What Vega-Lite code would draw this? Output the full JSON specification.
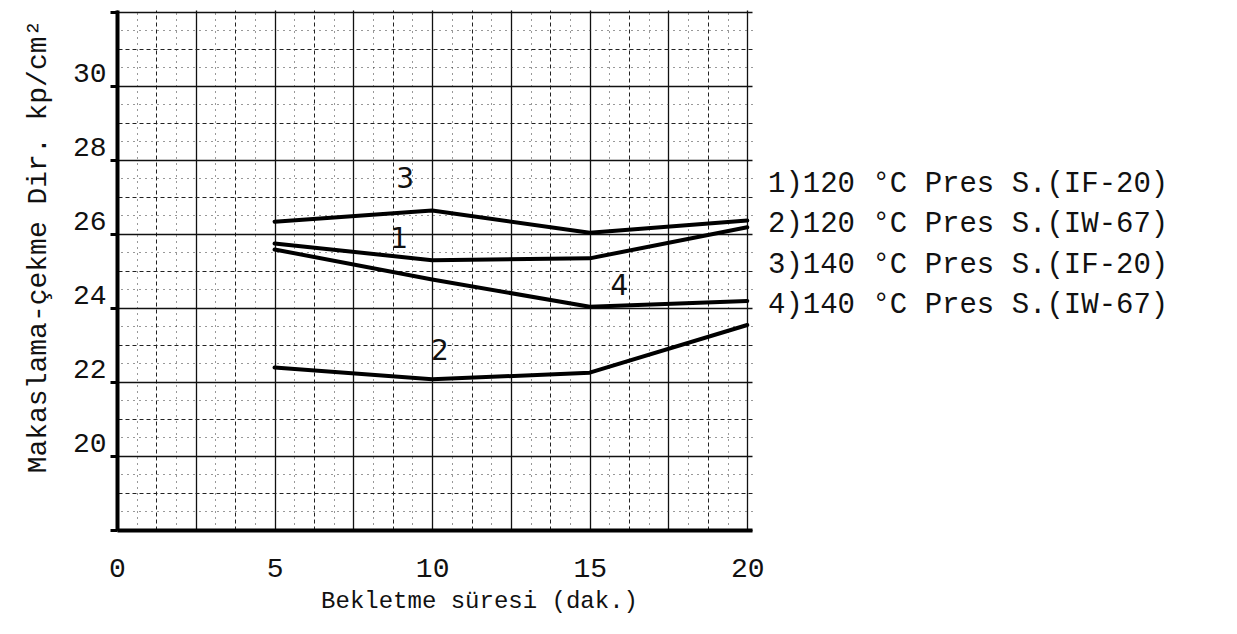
{
  "$schema": "https://vega.github.io/schema/vega-lite/v6.json",
  "autosize": {"type": "none"},
  "width": 635,
  "height": 520,
  "padding": {"left": 117, "top": 10, "right": 485, "bottom": 104},
  "background": "white",
  "config": {"view": {"stroke": null}, "font": "Liberation Mono"},
  "datasets": {
    "curves": [
      {"series": "1)120 °C Pres S.(IF-20)", "t": 5, "v": 25.74},
      {"series": "1)120 °C Pres S.(IF-20)", "t": 10, "v": 25.29},
      {"series": "1)120 °C Pres S.(IF-20)", "t": 15, "v": 25.34},
      {"series": "1)120 °C Pres S.(IF-20)", "t": 20, "v": 26.18},
      {"series": "2)120 °C Pres S.(IW-67)", "t": 5, "v": 22.39},
      {"series": "2)120 °C Pres S.(IW-67)", "t": 10, "v": 22.07},
      {"series": "2)120 °C Pres S.(IW-67)", "t": 15, "v": 22.25},
      {"series": "2)120 °C Pres S.(IW-67)", "t": 20, "v": 23.54},
      {"series": "3)140 °C Pres S.(IF-20)", "t": 5, "v": 26.33},
      {"series": "3)140 °C Pres S.(IF-20)", "t": 10, "v": 26.63},
      {"series": "3)140 °C Pres S.(IF-20)", "t": 15, "v": 26.03},
      {"series": "3)140 °C Pres S.(IF-20)", "t": 20, "v": 26.36},
      {"series": "4)140 °C Pres S.(IW-67)", "t": 5, "v": 25.58},
      {"series": "4)140 °C Pres S.(IW-67)", "t": 10, "v": 24.77},
      {"series": "4)140 °C Pres S.(IW-67)", "t": 15, "v": 24.03},
      {"series": "4)140 °C Pres S.(IW-67)", "t": 20, "v": 24.19}
    ],
    "nums": [
      {"num": "3", "t": 9.14, "v": 27.46},
      {"num": "1", "t": 8.95, "v": 25.83},
      {"num": "4", "t": 15.94, "v": 24.56},
      {"num": "2", "t": 10.25, "v": 22.81}
    ]
  },
  "resolve": {"axis": {"x": "independent", "y": "independent"}},
  "layer": [
    {
      "data": {"name": "curves"},
      "mark": {"type": "line", "strokeWidth": 4, "strokeJoin": "round", "strokeCap": "round"},
      "encoding": {
        "x": {
          "field": "t", "type": "quantitative",
          "scale": {"domain": [0, 20.15], "nice": false, "zero": false},
          "axis": {
            "orient": "bottom",
            "title": "Bekletme süresi (dak.)",
            "values": [0, 2.5, 5, 7.5, 10, 12.5, 15, 17.5, 20],
            "labelExpr": "datum.value % 5 == 0 ? datum.label : ''",
            "labelFont": "Liberation Mono", "labelFontSize": 28, "labelColor": "#111",
            "labelPadding": 24, "tickSize": 0, "labelFlush": false,
            "domainColor": "black", "domainWidth": 4,
            "grid": true, "gridColor": "#111", "gridWidth": 1.3, "gridOpacity": 1,
            "titleFont": "Liberation Mono", "titleFontSize": 24, "titleFontWeight": "normal", "titleColor": "#111",
            "titleX": 362, "titleY": 70, "titleAlign": "center", "titleBaseline": "middle"
          }
        },
        "y": {
          "field": "v", "type": "quantitative",
          "scale": {"domain": [18, 32.05], "nice": false, "zero": false},
          "axis": {
            "orient": "left",
            "title": "Makaslama-çekme Dir. kp/cm²",
            "values": [18, 20, 22, 24, 26, 28, 30, 32],
            "labelExpr": "datum.value >= 20 && datum.value <= 30 ? datum.label : ''",
            "labelFont": "Liberation Mono", "labelFontSize": 28, "labelColor": "#111",
            "labelPadding": 4, "labelOffset": -12,
            "tickSize": 7, "tickWidth": 3, "tickColor": "black",
            "domainColor": "black", "domainWidth": 4,
            "grid": true, "gridColor": "#111", "gridWidth": 1.3, "gridOpacity": 1,
            "titleFont": "Liberation Mono", "titleFontSize": 28, "titleFontWeight": "normal", "titleColor": "#111",
            "titleX": -80, "titleY": 236, "titleAlign": "center", "titleBaseline": "middle", "titleAngle": -90
          }
        },
        "color": {
          "field": "series", "type": "nominal",
          "scale": {
            "domain": ["1)120 °C Pres S.(IF-20)", "2)120 °C Pres S.(IW-67)", "3)140 °C Pres S.(IF-20)", "4)140 °C Pres S.(IW-67)"],
            "range": ["black", "black", "black", "black"]
          },
          "legend": {
            "orient": "none", "legendX": 622, "legendY": 158,
            "title": null,
            "labelFont": "Liberation Mono", "labelFontSize": 29, "labelColor": "#111",
            "labelLimit": 700, "labelOffset": 0,
            "symbolSize": 0, "symbolOpacity": 0, "symbolStrokeWidth": 0,
            "rowPadding": 10.5
          }
        }
      }
    },
    {
      "data": {"name": "nums"},
      "mark": {"type": "text", "fontSize": 28, "font": "DejaVu Sans", "color": "#111", "align": "center", "baseline": "middle"},
      "encoding": {
        "x": {
          "field": "t", "type": "quantitative",
          "axis": {
            "orient": "top", "title": null, "labels": false, "ticks": false, "domain": false,
            "values": [1.25, 3.75, 6.25, 8.75, 11.25, 13.75, 16.25, 18.75],
            "grid": true, "gridColor": "#222", "gridWidth": 1, "gridDash": [4, 3], "gridOpacity": 1
          }
        },
        "y": {
          "field": "v", "type": "quantitative",
          "axis": {
            "orient": "right", "title": null, "labels": false, "ticks": false, "domain": false,
            "values": [19, 21, 23, 25, 27, 29, 31],
            "grid": true, "gridColor": "#222", "gridWidth": 1, "gridDash": [4, 3], "gridOpacity": 1
          }
        },
        "text": {"field": "num"}
      }
    },
    {
      "data": {"name": "curves"},
      "mark": {"type": "point", "opacity": 0},
      "encoding": {
        "x": {
          "field": "t", "type": "quantitative",
          "axis": {
            "orient": "top", "title": null, "labels": false, "ticks": false, "domain": false,
            "values": [0.625, 1.875, 3.125, 4.375, 5.625, 6.875, 8.125, 9.375, 10.625, 11.875, 13.125, 14.375, 15.625, 16.875, 18.125, 19.375],
            "grid": true, "gridColor": "#333", "gridWidth": 1, "gridDash": [1, 5], "gridOpacity": 1
          }
        },
        "y": {
          "field": "v", "type": "quantitative",
          "axis": {
            "orient": "right", "title": null, "labels": false, "ticks": false, "domain": false,
            "values": [18.5, 19.5, 20.5, 21.5, 22.5, 23.5, 24.5, 25.5, 26.5, 27.5, 28.5, 29.5, 30.5, 31.5],
            "grid": true, "gridColor": "#333", "gridWidth": 1, "gridDash": [1, 5], "gridOpacity": 1
          }
        }
      }
    }
  ]
}
